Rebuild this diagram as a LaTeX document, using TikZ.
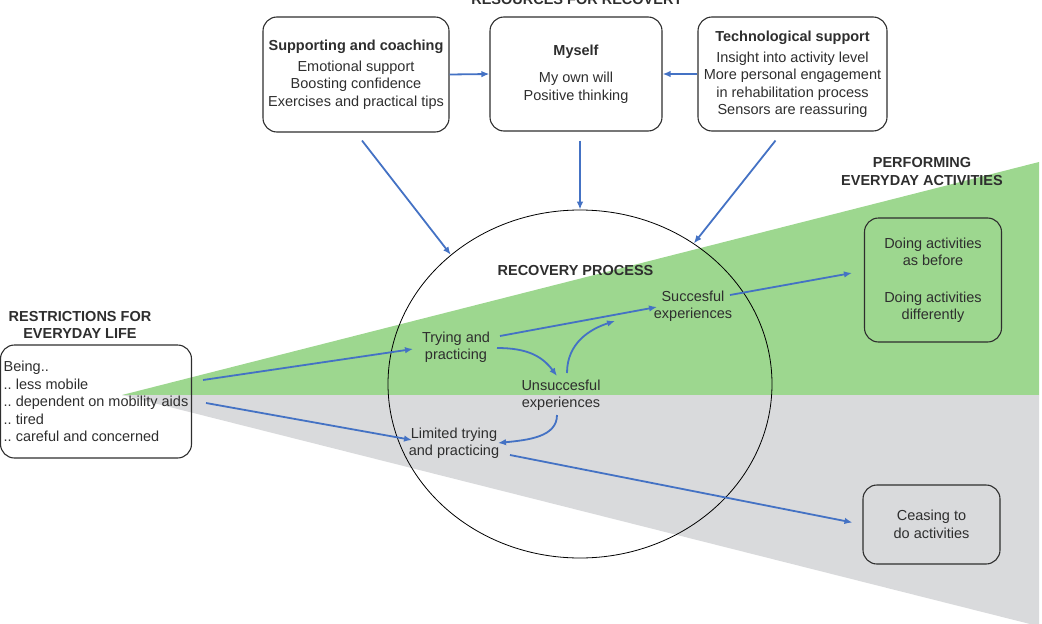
\documentclass[tikz,border=0pt]{standalone}
\usepackage{fontspec}
\setmainfont{Liberation Sans}
\usetikzlibrary{arrows.meta,calc,shapes.geometric}

\definecolor{flowblue}{HTML}{4472C4}
\definecolor{gaingreen}{HTML}{9DD78F}
\definecolor{lossgray}{HTML}{D9DADC}
\definecolor{inkgray}{HTML}{2E2E2E}

\frenchspacing

\begin{document}
\begin{tikzpicture}[
		x=1pt,
		y=-1pt,
		every node/.style={
			text=inkgray,
			font=\fontsize{14.5}{17.5}\selectfont,
		},
		box/.style={
			draw=inkgray,
			line width=1.1pt,
			rounded corners=14pt,
			align=center,
			inner sep=0pt,
		},
		heading/.style={
			font=\fontsize{14.5}{17.5}\selectfont\bfseries,
			align=center,
			inner sep=0pt,
		},
		stage/.style={
			align=center,
			inner sep=0pt,
		},
		flow/.style={
			draw=flowblue,
			line width=1.8pt,
			-{Latex[length=8pt,width=6.5pt]},
		},
	]
		\useasboundingbox (0,0) rectangle (1042,624);

		% the two outcome wedges
		\fill[gaingreen] (122,395) -- (1039,162) -- (1039,395) -- cycle;
		\fill[lossgray] (122,395) -- (1039,395) -- (1039,624) -- (1030,624) -- cycle;

		\node[heading] (restitle) at (577,0) {RESOURCES FOR RECOVERY};

		\node[box, minimum width=186pt, minimum height=115pt] (supp) at (356,74.5)
			{\textbf{Supporting and coaching}\\[3.5pt]
			Emotional support\\ Boosting confidence\\ Exercises and practical tips};
		\node[box, minimum width=172pt, minimum height=114pt] (myself) at (576,74)
			{\textbf{Myself}\\[9.5pt] My own will\\ Positive thinking};
		\node[box, minimum width=189pt, minimum height=114pt] (tech) at (792.5,74)
			{\textbf{Technological support}\\[3.5pt]
			Insight into activity level\\ More personal engagement\\
			in rehabilitation process\\ Sensors are reassuring};

		\node[heading] (restrtitle) at (80,325) {RESTRICTIONS FOR\\ EVERYDAY LIFE};
		\node[box, align=left, minimum width=191pt, minimum height=113pt] (restr) at (96,401.5)
			{Being..\\ .. less mobile\\ .. dependent on mobility aids\\ .. tired\\ .. careful and concerned};

		% recovery process
		\node[ellipse, draw=black, line width=0.8pt, minimum width=384pt, minimum height=348pt] (proc) at (580,384) {};
		\node[heading] (proctitle) at (575.5,271) {RECOVERY PROCESS};
		\node[stage] (try) at (456,347) {Trying and\\ practicing};
		\node[stage] (succ) at (693,306) {Succesful\\ experiences};
		\node[stage] (unsucc) at (561,395) {Unsuccesful\\ experiences};
		\node[stage] (lim) at (454,443) {Limited trying\\ and practicing};

		\node[heading] (perftitle) at (922,171.5) {PERFORMING\\ EVERYDAY ACTIVITIES};
		\node[box, minimum width=137pt, minimum height=124pt] (doing) at (933,280)
			{Doing activities\\ as before\\[19pt] Doing activities\\ differently};
		\node[box, minimum width=137pt, minimum height=79pt] (ceas) at (931.5,524.5)
			{Ceasing to\\ do activities};

		% resources
		\draw[flow] (supp.east) -- (myself.west);
		\draw[flow] (tech.west) -- (myself.east);
		\draw[flow] ($(supp.south)+(6,8)$) -- (proc.135);
		\draw[flow] ($(myself.south)+(4,9)$) -- (proc.north);
		\draw[flow] ($(tech.south)+(-17,9)$) -- (proc.51);

		% process
		\draw[flow] ($(restr.east)+(11,-21.5)$) -- ($(try)+(-43,2)$);
		\draw[flow] ($(restr.east)+(14,1.5)$) -- ($(lim)+(-42,-3)$);
		\draw[flow] ($(try)+(44,-11)$) -- ($(succ)+(-36,1)$);
		\draw[flow] ($(try)+(41,1)$) .. controls +(30,0) and +(-15,-20) .. ($(unsucc)+(-4,-19)$);
		\draw[flow] ($(unsucc)+(6,-22)$) .. controls +(0,-30) and +(-25,8) .. ($(succ)+(-78,15)$);
		\draw[flow] ($(unsucc)+(-4,20)$) .. controls +(0,22) and +(30,-3) .. ($(lim)+(44,0)$);

		% outcomes
		\draw[flow] ($(succ)+(37,-11)$) -- ($(doing.west)+(-12,-7)$);
		\draw[flow] ($(lim)+(56,12)$) -- ($(ceas.west)+(-10,-2)$);
\end{tikzpicture}
\end{document}
